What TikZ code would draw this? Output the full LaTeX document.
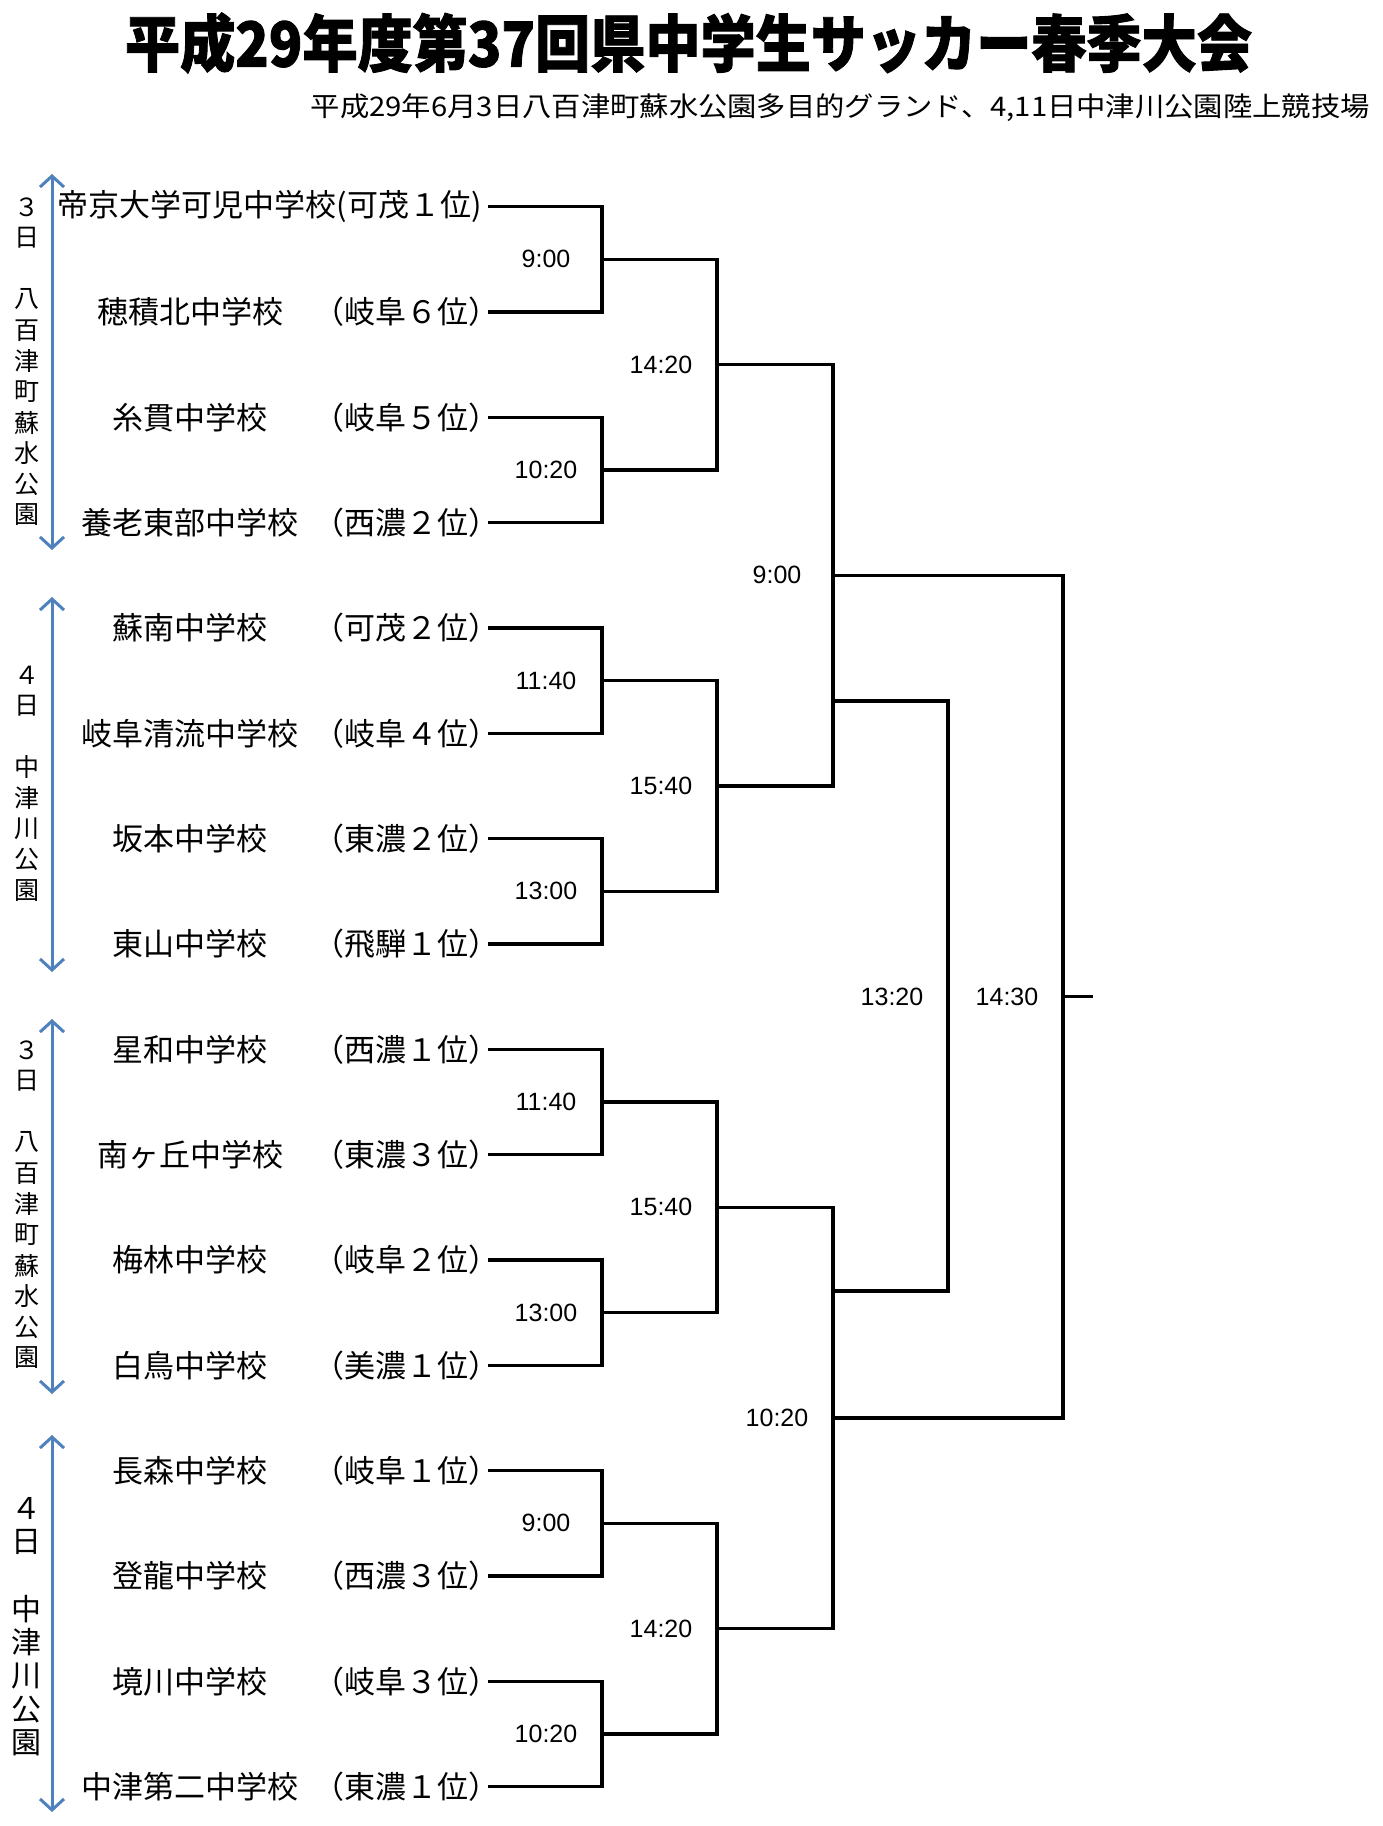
\documentclass[tikz,border=0pt]{standalone}
\usepackage{fontspec}
\setmainfont{Noto Sans CJK JP}
\newfontfamily\timefont{Liberation Sans}
\usepackage{graphicx}
\usepackage{tikz}
\usetikzlibrary{arrows.meta}
\definecolor{dayblue}{RGB}{79,129,189}

\begin{document}
\begin{tikzpicture}[x=1pt, y=-1pt,
    teamname/.style={inner sep=0pt, font=\fontsize{31}{31}\selectfont},
    teamrank/.style={inner sep=0pt, anchor=east, font=\fontsize{31}{31}\selectfont},
    timelbl/.style={inner sep=0pt, xshift=-56pt, font=\timefont\fontsize{25}{25}\selectfont},
    bracket/.style={line width=3.4pt},
    dayarrow/.style={draw=dayblue, line width=3pt,
      {Straight Barb[length=11pt,width=24pt]}-{Straight Barb[length=11pt,width=24pt]}},
    daytext/.style={inner sep=0pt, font=\fontsize{25}{25}\selectfont}]
  \useasboundingbox[fill=white] (0,0) rectangle (1382,1826);

  % タイトル
  \node[inner sep=0pt] (title) at (688.5,43)
    {\resizebox{1127pt}{\height}{\bfseries\addfontfeature{FakeBold=1.5}\fontsize{62}{62}\selectfont 平成29年度第37回県中学生サッカー春季大会}};
  \node[inner sep=0pt, anchor=east] (venue) at (1370,108)
    {\resizebox{1059pt}{\height}{\fontsize{27}{27}\selectfont 平成29年6月3日八百津町蘇水公園多目的グランド、4,11日中津川公園陸上競技場}};

  % 日程・会場（左の矢印）
  \draw[dayarrow] (52,174) coordinate (g1top) -- (52,550) coordinate (g1bot);
  \draw[dayarrow] (52,597) coordinate (g2top) -- (52,972) coordinate (g2bot);
  \draw[dayarrow] (52,1019) coordinate (g3top) -- (52,1394) coordinate (g3bot);
  \draw[dayarrow] (52,1435) coordinate (g4top) -- (52,1812) coordinate (g4bot);
  \foreach \ch/\k in {３/0,日/1,八/3,百/4,津/5,町/6,蘇/7,水/8,公/9,園/10} {
    \node[daytext] (d1-\k) at (27,{207+30.8*\k}) {\ch};
    \node[daytext] (d3-\k) at (27,{1050+30.8*\k}) {\ch};
  }
  \foreach \ch/\k in {４/0,日/1,中/3,津/4,川/5,公/6,園/7} {
    \node[daytext] (d2-\k) at (27,{675+30.8*\k}) {\ch};
    \node[daytext, font=\fontsize{30}{30}\selectfont] (d4-\k) at (27,{1508+33.6*\k}) {\ch};
  }

  % 出場チーム
  \node[teamrank] (r1) at (482,206.7) {帝京大学可児中学校(可茂１位)};
  \coordinate (e1) at ([xshift=6pt]r1.east);
  \foreach \nm/\rg [count=\i from 2] in {穂積北中学校/（岐阜６位）, 糸貫中学校/（岐阜５位）,
      養老東部中学校/（西濃２位）, 蘇南中学校/（可茂２位）, 岐阜清流中学校/（岐阜４位）,
      坂本中学校/（東濃２位）, 東山中学校/（飛騨１位）, 星和中学校/（西濃１位）,
      南ヶ丘中学校/（東濃３位）, 梅林中学校/（岐阜２位）, 白鳥中学校/（美濃１位）,
      長森中学校/（岐阜１位）, 登龍中学校/（西濃３位）, 境川中学校/（岐阜３位）,
      中津第二中学校/（東濃１位）} {
    \node[teamname] (n\i) at (190,{206.7+105.33*(\i-1)}) {\nm};
    \node[teamrank] (r\i) at (500,{206.7+105.33*(\i-1)}) {\rg};
    \coordinate (e\i) at ([xshift=-12pt]r\i.east);
  }

  % 1回戦
  \foreach \t [count=\k] in {9:00,10:20,11:40,13:00,11:40,13:00,9:00,10:20} {
    \pgfmathtruncatemacro\u{2*\k-1}
    \pgfmathtruncatemacro\l{2*\k}
    \coordinate (a\k) at (602,{206.7+105.33*(2*\k-1.5)});
    \draw[bracket] (e\u) -| (a\k) |- (e\l);
    \node[timelbl] (ta\k) at (a\k) {\t};
  }

  % 準々決勝
  \foreach \t [count=\k] in {14:20,15:40,15:40,14:20} {
    \pgfmathtruncatemacro\u{2*\k-1}
    \pgfmathtruncatemacro\l{2*\k}
    \coordinate (b\k) at (717,{206.7+105.33*(4*\k-2.5)});
    \draw[bracket] (a\u) -| (b\k) |- (a\l);
    \node[timelbl] (tb\k) at (b\k) {\t};
  }

  % 準決勝
  \foreach \t [count=\k] in {9:00,10:20} {
    \pgfmathtruncatemacro\u{2*\k-1}
    \pgfmathtruncatemacro\l{2*\k}
    \coordinate (c\k) at (833,{206.7+105.33*(8*\k-4.5)});
    \draw[bracket] (b\u) -| (c\k) |- (b\l);
    \node[timelbl] (tc\k) at (c\k) {\t};
  }

  % 3位決定戦
  \coordinate (p1) at (833,701);
  \coordinate (p2) at (833,1291);
  \coordinate (p) at (948,996.7);
  \draw[bracket] (p1) -| (p) |- (p2);
  \node[timelbl] (tp) at (p) {13:20};

  % 決勝
  \coordinate (f) at (1063,996.7);
  \coordinate (fend) at (1093,996.7);
  \draw[bracket] (c1) -| (f) |- (c2);
  \draw[bracket] (f) -- (fend);
  \node[timelbl] (tf) at (f) {14:30};
\end{tikzpicture}
\end{document}
